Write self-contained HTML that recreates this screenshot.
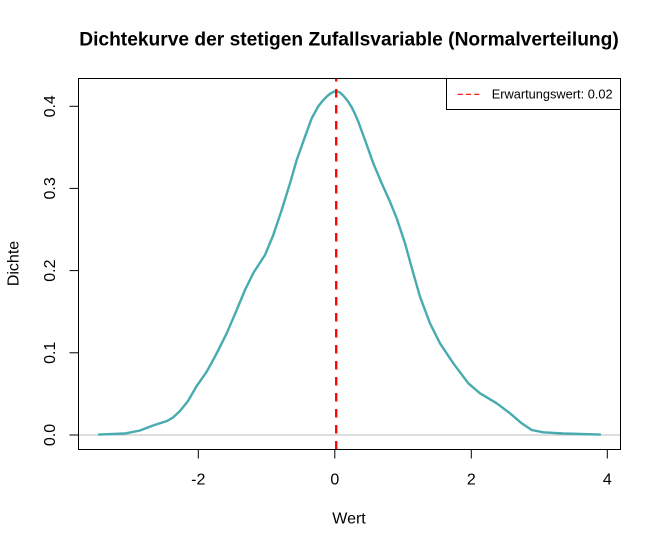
<!DOCTYPE html>
<html>
<head>
<meta charset="utf-8">
<style>
  html, body { margin: 0; padding: 0; background: #ffffff; }
  svg { display: block; }
  text { font-family: "Liberation Sans", Arial, sans-serif; fill: #000; }
</style>
</head>
<body>
<svg width="661" height="547" viewBox="0 0 661 547" xmlns="http://www.w3.org/2000/svg">
  <rect x="0" y="0" width="661" height="547" fill="#ffffff"/>

  <!-- Title -->
  <text x="349" y="45.7" text-anchor="middle" font-size="19.2" font-weight="bold">Dichtekurve der stetigen Zufallsvariable (Normalverteilung)</text>

  <defs>
    <clipPath id="plotclip">
      <rect x="78" y="78" width="543" height="372"/>
    </clipPath>
  </defs>

  <!-- zero baseline -->
  <line x1="78" y1="435" x2="620.5" y2="435" stroke="#BEBEBE" stroke-width="1"/>

  <!-- density curve -->
  <polyline clip-path="url(#plotclip)" fill="none" stroke="#47ABAF" stroke-width="2.4" stroke-linejoin="round" stroke-linecap="round"
    points="99,434.6 125,433.5 140,430.5 153,425.5 167,421 173,417.5 180,411 188,401 196.7,386 206.7,371.7 216.7,353.3 226.7,333.3 236.7,310 245,290 253.3,273 265,255 273.3,235 281.7,210 290,183.3 296.7,160 305,136.7 311.7,118.3 318.3,106.2 322.5,101 326.7,96.6 330,93.8 333.3,91.9 335.5,91.3 337.5,91.4 340,92.6 343.3,95.6 347.5,100.6 351.7,107.2 355,114 358.3,121.7 365,140 373.3,163.3 381.7,183.3 390,201.7 396.7,218.3 405,243.3 413.3,273.3 420,296.7 430,323.3 440,343.3 453.3,363.3 468.3,383.3 480,393.3 496.7,403.3 510,413.3 521.7,423.3 531.7,430 543.3,432.3 563.3,433.5 580,434 600,434.6"/>

  <!-- mean line -->
  <line clip-path="url(#plotclip)" x1="336.2" y1="73" x2="336.2" y2="452" stroke="#FF0000" stroke-width="2.3" stroke-dasharray="8.5 7.5"/>

  <!-- plot box -->
  <rect x="78.5" y="78.5" width="542" height="371" fill="none" stroke="#000" stroke-width="1"/>

  <!-- x axis ticks -->
  <g stroke="#000" stroke-width="1">
    <line x1="198.3" y1="449.5" x2="198.3" y2="458.5"/>
    <line x1="334.8" y1="449.5" x2="334.8" y2="458.5"/>
    <line x1="471.3" y1="449.5" x2="471.3" y2="458.5"/>
    <line x1="607.3" y1="449.5" x2="607.3" y2="458.5"/>
  </g>
  <g font-size="16" text-anchor="middle">
    <text x="198.3" y="484.3">-2</text>
    <text x="334.8" y="484.3">0</text>
    <text x="471.3" y="484.3">2</text>
    <text x="607.3" y="484.3">4</text>
  </g>

  <!-- y axis ticks -->
  <g stroke="#000" stroke-width="1">
    <line x1="69.5" y1="435" x2="78.5" y2="435"/>
    <line x1="69.5" y1="352.8" x2="78.5" y2="352.8"/>
    <line x1="69.5" y1="270.6" x2="78.5" y2="270.6"/>
    <line x1="69.5" y1="188.4" x2="78.5" y2="188.4"/>
    <line x1="69.5" y1="106.3" x2="78.5" y2="106.3"/>
  </g>
  <g font-size="16" text-anchor="middle">
    <text transform="translate(55,435) rotate(-90)">0.0</text>
    <text transform="translate(55,352.8) rotate(-90)">0.1</text>
    <text transform="translate(55,270.6) rotate(-90)">0.2</text>
    <text transform="translate(55,188.4) rotate(-90)">0.3</text>
    <text transform="translate(55,106.3) rotate(-90)">0.4</text>
  </g>

  <!-- axis titles -->
  <text x="349" y="523.3" font-size="16" text-anchor="middle">Wert</text>
  <text transform="translate(18.5,263.5) rotate(-90)" font-size="16" text-anchor="middle">Dichte</text>

  <!-- legend -->
  <rect x="446.5" y="78.5" width="174" height="31" fill="#ffffff" stroke="#000" stroke-width="1"/>
  <line x1="457.7" y1="94.3" x2="479.3" y2="94.3" stroke="#FF0000" stroke-width="1.2" stroke-dasharray="5 3.3"/>
  <text x="491.7" y="98.7" font-size="12.8">Erwartungswert: 0.02</text>
</svg>
</body>
</html>
